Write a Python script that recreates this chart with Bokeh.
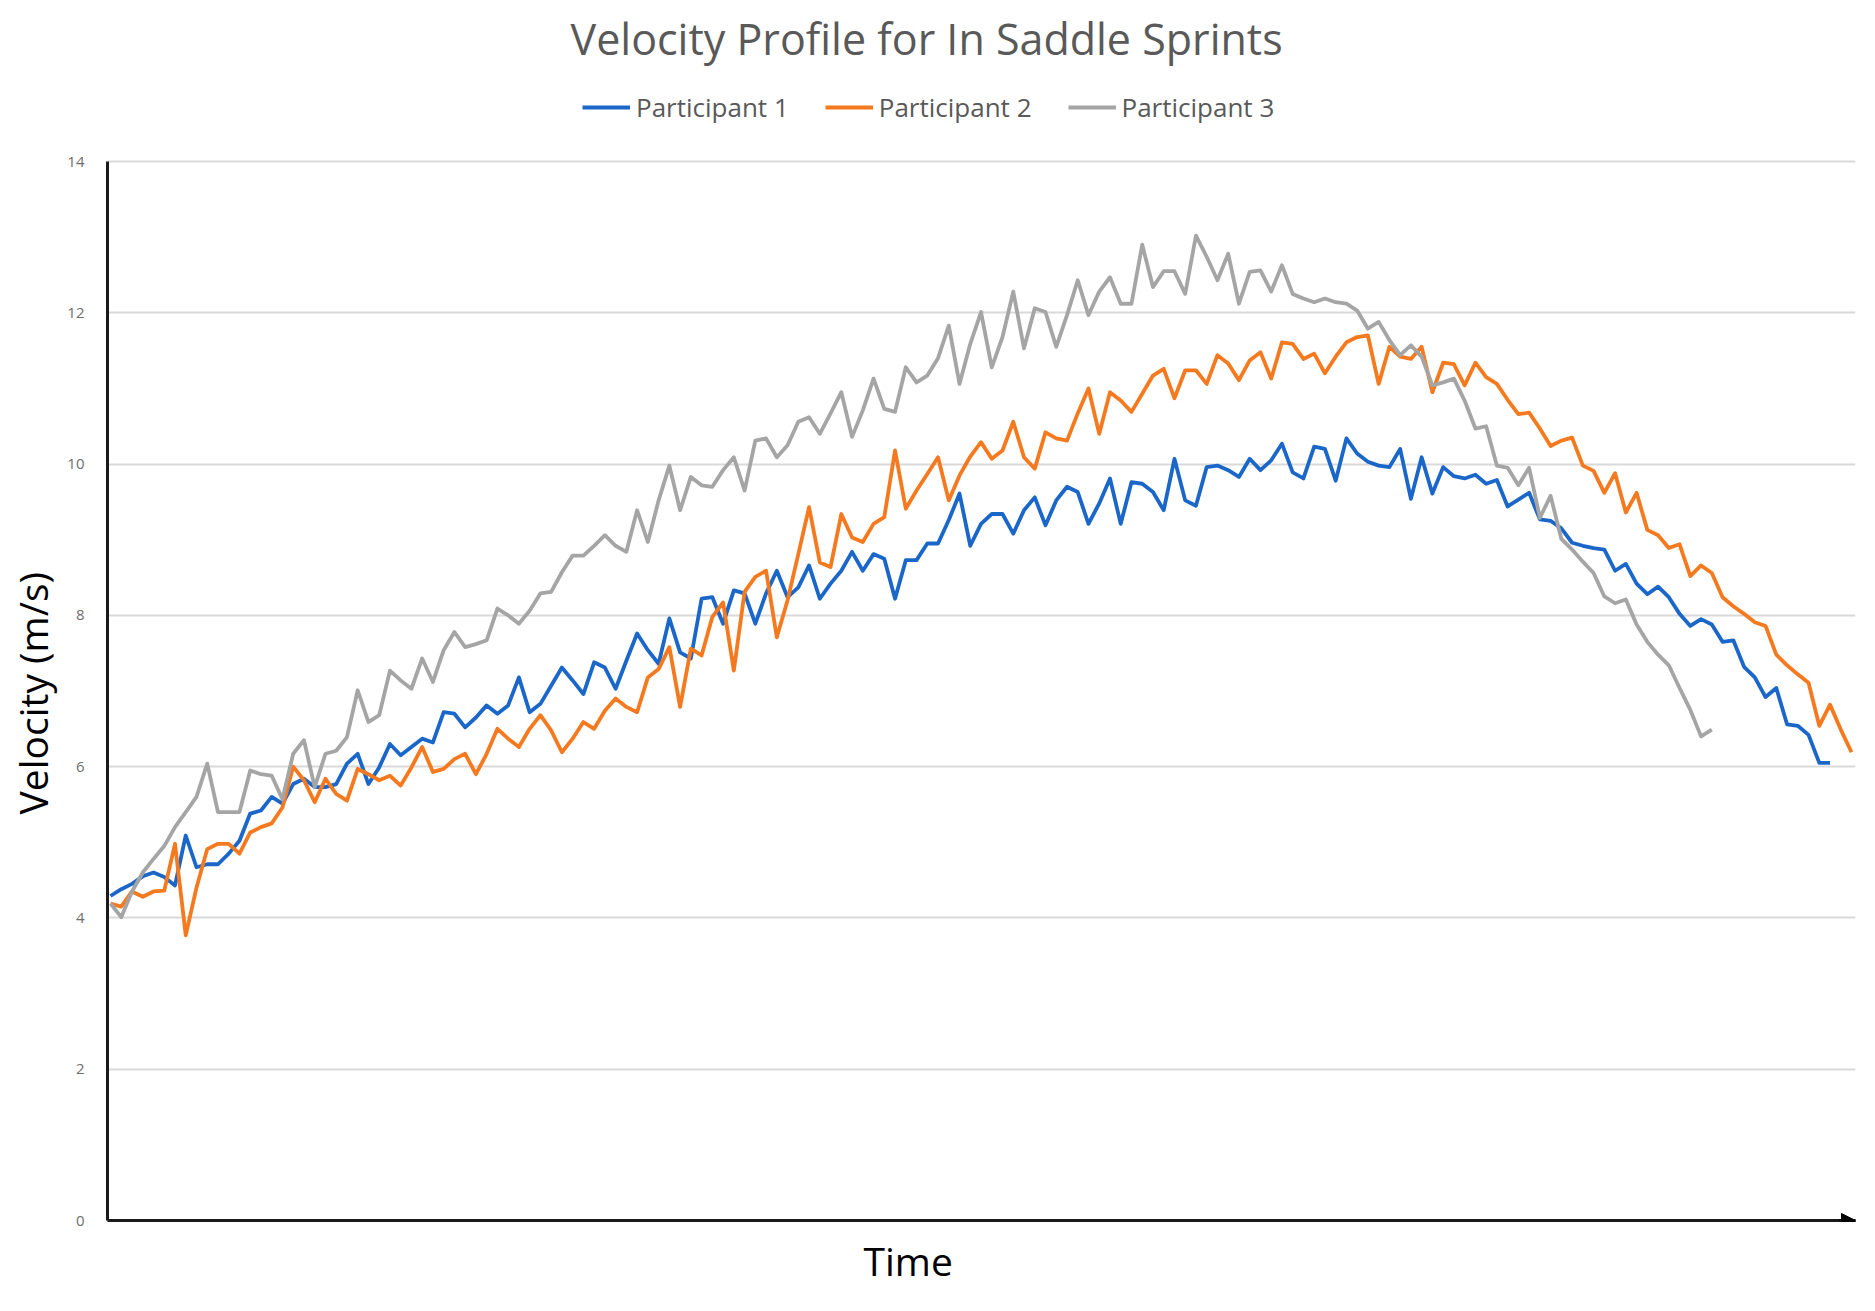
import numpy as np
from bokeh.plotting import figure
from bokeh.models import Range1d, FixedTicker, Legend, LegendItem, Title, Arrow, NormalHead
from bokeh.embed import file_html
from bokeh.resources import INLINE

# ---- data (velocity in m/s, one value per time sample) ----
participant_1 = [
    4.29, 4.38, 4.45, 4.55, 4.60, 4.54, 4.43, 5.09, 4.67, 4.71, 4.71, 4.85, 5.02, 5.38, 5.42, 5.60,
    5.51, 5.77, 5.84, 5.73, 5.73, 5.77, 6.04, 6.17, 5.77, 5.99, 6.30, 6.15, 6.26, 6.37, 6.32, 6.72,
    6.70, 6.52, 6.65, 6.81, 6.70, 6.81, 7.18, 6.72, 6.83, 7.07, 7.31, 7.14, 6.96, 7.38, 7.31, 7.03,
    7.40, 7.76, 7.54, 7.36, 7.96, 7.51, 7.43, 8.22, 8.24, 7.89, 8.33, 8.29, 7.89, 8.29, 8.59, 8.24,
    8.37, 8.66, 8.22, 8.42, 8.59, 8.84, 8.59, 8.81, 8.75, 8.22, 8.73, 8.73, 8.95, 8.95, 9.26, 9.61,
    8.92, 9.21, 9.34, 9.34, 9.08, 9.39, 9.56, 9.19, 9.52, 9.70, 9.63, 9.21, 9.48, 9.81, 9.21, 9.76,
    9.74, 9.63, 9.39, 10.07, 9.52, 9.45, 9.96, 9.98, 9.92, 9.83, 10.07, 9.92, 10.05, 10.27, 9.89, 9.81,
    10.23, 10.20, 9.78, 10.34, 10.14, 10.03, 9.98, 9.96, 10.20, 9.54, 10.09, 9.61, 9.96, 9.84, 9.81, 9.86,
    9.74, 9.79, 9.44, 9.53, 9.62, 9.27, 9.25, 9.15, 8.96, 8.92, 8.89, 8.87, 8.59, 8.68, 8.42, 8.28,
    8.38, 8.24, 8.02, 7.86, 7.95, 7.88, 7.65, 7.67, 7.32, 7.18, 6.92, 7.04, 6.56, 6.54, 6.42, 6.05,
    6.05,
]
participant_2 = [
    4.19, 4.15, 4.35, 4.28, 4.35, 4.36, 4.98, 3.77, 4.40, 4.91, 4.98, 4.98, 4.85, 5.13, 5.20, 5.25,
    5.46, 6.00, 5.82, 5.53, 5.84, 5.64, 5.55, 5.97, 5.90, 5.82, 5.88, 5.75, 5.99, 6.26, 5.93, 5.97,
    6.10, 6.17, 5.90, 6.17, 6.50, 6.37, 6.26, 6.50, 6.68, 6.48, 6.19, 6.37, 6.59, 6.50, 6.74, 6.90,
    6.79, 6.72, 7.18, 7.29, 7.58, 6.79, 7.56, 7.47, 7.98, 8.17, 7.27, 8.31, 8.51, 8.59, 7.71, 8.20,
    8.81, 9.43, 8.70, 8.64, 9.34, 9.03, 8.97, 9.21, 9.30, 10.18, 9.41, 9.65, 9.87, 10.09, 9.52, 9.85,
    10.10, 10.29, 10.07, 10.18, 10.56, 10.09, 9.94, 10.42, 10.34, 10.31, 10.67, 11.00, 10.40, 10.95, 10.84, 10.69,
    10.93, 11.17, 11.26, 10.87, 11.24, 11.24, 11.06, 11.44, 11.33, 11.11, 11.37, 11.48, 11.13, 11.61, 11.59, 11.39,
    11.46, 11.20, 11.42, 11.61, 11.68, 11.70, 11.06, 11.55, 11.42, 11.39, 11.55, 10.95, 11.34, 11.32, 11.04, 11.34,
    11.15, 11.06, 10.85, 10.66, 10.68, 10.47, 10.24, 10.31, 10.35, 9.98, 9.91, 9.62, 9.88, 9.36, 9.62, 9.13,
    9.06, 8.89, 8.94, 8.52, 8.66, 8.56, 8.24, 8.12, 8.02, 7.91, 7.86, 7.48, 7.34, 7.22, 7.11, 6.54,
    6.82, 6.49, 6.19,
]
participant_3 = [
    4.19, 4.01, 4.35, 4.60, 4.78, 4.95, 5.20, 5.40, 5.60, 6.04, 5.40, 5.40, 5.40, 5.95, 5.90, 5.88,
    5.57, 6.17, 6.35, 5.73, 6.17, 6.21, 6.39, 7.01, 6.59, 6.68, 7.27, 7.14, 7.03, 7.43, 7.12, 7.54,
    7.78, 7.58, 7.62, 7.67, 8.09, 8.00, 7.89, 8.06, 8.29, 8.31, 8.57, 8.79, 8.79, 8.92, 9.06, 8.92,
    8.84, 9.39, 8.97, 9.52, 9.98, 9.39, 9.83, 9.72, 9.70, 9.92, 10.09, 9.65, 10.31, 10.34, 10.09, 10.25,
    10.56, 10.62, 10.40, 10.67, 10.95, 10.36, 10.71, 11.13, 10.73, 10.69, 11.28, 11.08, 11.17, 11.40, 11.83, 11.06,
    11.59, 12.01, 11.28, 11.68, 12.28, 11.53, 12.06, 12.01, 11.55, 11.97, 12.43, 11.97, 12.28, 12.47, 12.12, 12.12,
    12.90, 12.34, 12.55, 12.55, 12.25, 13.02, 12.74, 12.43, 12.78, 12.12, 12.54, 12.56, 12.28, 12.63, 12.25, 12.19,
    12.14, 12.19, 12.14, 12.12, 12.03, 11.79, 11.88, 11.64, 11.44, 11.57, 11.42, 11.04, 11.08, 11.13, 10.84, 10.47,
    10.50, 9.98, 9.95, 9.72, 9.95, 9.29, 9.58, 9.01, 8.87, 8.71, 8.56, 8.25, 8.16, 8.21, 7.88, 7.65,
    7.48, 7.34, 7.04, 6.75, 6.40, 6.49,
]
series_names = ["Participant 1", "Participant 2", "Participant 3"]
y_ticks = [0, 2, 4, 6, 8, 10, 12, 14]
colors = ["#1A67C9", "#F57A1F", "#A5A5A5"]

FONT = "Open Sans"
x_end = 162.37
y_top = 15.124   # frame extends a little above 14 so the legend can sit above the axis

p = figure(width=1867, height=1303, output_backend="svg", toolbar_location=None,
           x_range=Range1d(-0.28, x_end), y_range=Range1d(0, y_top),
           min_border_left=107, min_border_right=12, min_border_top=76, min_border_bottom=83)
p.outline_line_color = None
p.background_fill_color = "white"
p.border_fill_color = "white"

renderers = []
for vals, col in zip([participant_1, participant_2, participant_3], colors):
    x = np.arange(len(vals))
    r = p.line(x, vals, line_color=col, line_width=3.8, line_join="round")
    renderers.append(r)

# title
p.title.text = "Velocity Profile for In Saddle Sprints"
p.title.align = "left"
p.title.offset = 463
p.title.standoff = 15
p.title.vertical_align = "middle"
p.title.text_font = FONT
p.title.text_font_size = "43px"
p.title.text_font_style = "normal"
p.title.text_color = "#595959"

# legend placed in the band above the y=14 gridline
legend = Legend(items=[LegendItem(label=n, renderers=[r]) for n, r in zip(series_names, renderers)],
                orientation="horizontal", location=(475, 1095),
                label_text_font=FONT, label_text_font_size="26px", label_text_color="#595959",
                glyph_width=48, glyph_height=20, label_standoff=6, spacing=36,
                padding=0, margin=0, border_line_color=None, background_fill_alpha=0)
p.add_layout(legend, "center")

# y axis
p.yaxis.ticker = FixedTicker(ticks=y_ticks)
p.yaxis.bounds = (0, 14)
p.yaxis.axis_line_color = "#1a1a1a"
p.yaxis.axis_line_width = 3
p.yaxis.major_tick_line_color = None
p.yaxis.minor_tick_line_color = None
p.yaxis.major_label_text_font = FONT
p.yaxis.major_label_text_font_size = "15px"
p.yaxis.major_label_text_color = "#6e6e6e"
p.yaxis.major_label_standoff = 17

# y-axis title, centred on the 0-14 span rather than the whole frame
p.add_layout(Title(text="Velocity (m/s)", align="left", offset=406, standoff=9,
                   vertical_align="middle", text_font=FONT, text_font_size="39px",
                   text_font_style="normal", text_color="black"), "left")

# x axis (no ticks, arrow at the end)
p.xaxis.ticker = FixedTicker(ticks=[])
p.xaxis.axis_line_color = "#1a1a1a"
p.xaxis.axis_line_width = 3
p.xaxis.major_tick_line_color = None
p.xaxis.minor_tick_line_color = None
p.add_layout(Arrow(end=NormalHead(size=14, fill_color="black", line_color="black"),
                   x_start=x_end - 1.5, y_start=0, x_end=x_end, y_end=0,
                   line_color="black", line_width=3))

p.add_layout(Title(text="Time", align="left", offset=756, standoff=24, vertical_align="middle",
                   text_font=FONT, text_font_size="39px", text_font_style="normal",
                   text_color="black"), "below")

p.ygrid.grid_line_color = "#d9d9d9"
p.ygrid.grid_line_width = 2
p.xgrid.visible = False

open("out.html", "w").write(file_html(p, INLINE))
